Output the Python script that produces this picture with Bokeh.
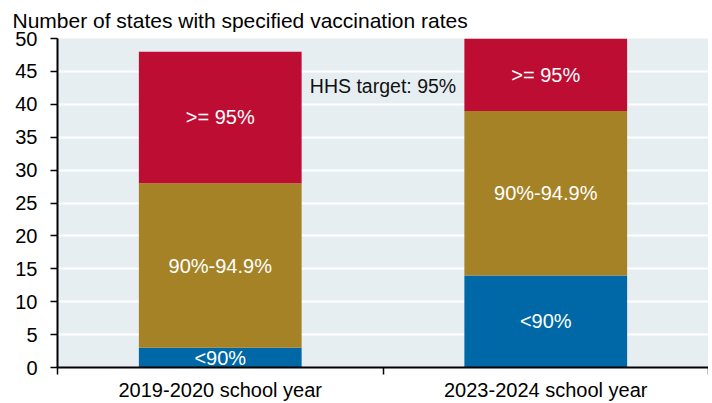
from bokeh.plotting import figure
from bokeh.models import Range1d, FixedTicker, ColumnDataSource, Label
from bokeh.core.properties import value
from bokeh.embed import file_html
from bokeh.resources import INLINE

categories = ["2019-2020 school year", "2023-2024 school year"]
below_90 = [3, 14]
between_90_95 = [25, 25]
above_95 = [20, 11]
series_names = ["<90%", "90%-94.9%", ">= 95%"]
colors = ["#0068A6", "#A68226", "#BE0D33"]
y_ticks = list(range(0, 55, 5))
title_text = "Number of states with specified vaccination rates"
target_text = "HHS target: 95%"
target_y = 42.8

FONT = "Liberation Sans"

xs = [i + 0.5 for i in range(len(categories))]
src = ColumnDataSource(dict(x=xs, b=below_90, m=between_90_95, a=above_95))

p = figure(width=708, height=403, output_backend="svg", toolbar_location=None,
           x_range=Range1d(0, len(categories)), y_range=Range1d(0, 50),
           min_border_left=57, min_border_right=0, min_border_top=38, min_border_bottom=36)

p.title.text = title_text
p.title.text_font = FONT
p.title.text_font_size = "21px"
p.title.text_font_style = "normal"
p.title.text_color = "black"
p.title.align = "left"
p.title.vertical_align = "top"
p.title.offset = -45
p.title.standoff = 10

p.background_fill_color = "#E6EEF2"
p.border_fill_color = "white"
p.outline_line_color = None

p.vbar_stack(["b", "m", "a"], x="x", width=0.5, source=src, color=colors,
             line_color=None)

# labels in segment centres
lx, ly, lt = [], [], []
for i, x in enumerate(xs):
    segs = [below_90[i], between_90_95[i], above_95[i]]
    base = 0
    for name, v in zip(series_names, segs):
        lx.append(x)
        ly.append(base + v / 2)
        lt.append(name)
        base += v
p.text(x=lx, y=ly, text=lt, text_color="white", text_font=value(FONT),
       text_font_size="20px", text_align="center", text_baseline="middle")

p.add_layout(Label(x=1.0, y=target_y, text=target_text, text_font=FONT,
                   text_font_size="19.5px", text_align="center",
                   text_baseline="middle", text_color="#111111"))

# y axis
p.yaxis.ticker = FixedTicker(ticks=y_ticks)
p.yaxis.major_label_text_font = FONT
p.yaxis.major_label_text_font_size = "20px"
p.yaxis.major_label_text_color = "black"
p.yaxis.axis_line_color = "black"
p.yaxis.axis_line_width = 2
p.yaxis.major_tick_line_color = "black"
p.yaxis.major_tick_line_width = 1.5
p.yaxis.major_tick_out = 7
p.yaxis.major_tick_in = 0
p.yaxis.minor_tick_line_color = None
p.yaxis.major_label_standoff = 13

# x axis: labels at centres, tick marks at boundaries (minor ticks)
p.xaxis.ticker = FixedTicker(ticks=xs, minor_ticks=list(range(len(categories) + 1)))
p.xaxis.major_label_overrides = {x: c for x, c in zip(xs, categories)}
p.xaxis.major_label_text_font = FONT
p.xaxis.major_label_text_font_size = "20px"
p.xaxis.major_label_text_color = "black"
p.xaxis.major_tick_line_color = None
p.xaxis.minor_tick_line_color = "black"
p.xaxis.minor_tick_line_width = 1.5
p.xaxis.minor_tick_out = 7
p.xaxis.minor_tick_in = 0
p.xaxis.axis_line_color = "black"
p.xaxis.axis_line_width = 2
p.xaxis.major_label_standoff = 4

p.xgrid.grid_line_color = None
p.ygrid.grid_line_color = "white"
p.ygrid.grid_line_width = 2
p.ygrid.ticker = FixedTicker(ticks=y_ticks)

open("out.html", "w").write(file_html(p, INLINE))
